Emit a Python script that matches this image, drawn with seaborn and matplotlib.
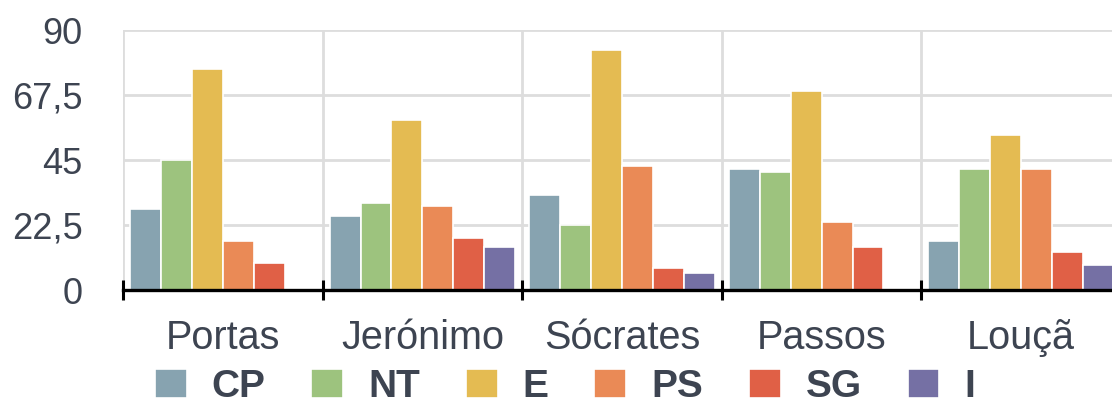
import numpy as np
import pandas as pd
import seaborn as sns
import matplotlib.pyplot as plt
from matplotlib.ticker import FuncFormatter

leaders = ["Portas", "Jerónimo", "Sócrates", "Passos", "Louçã"]
series = ["CP", "NT", "E", "PS", "SG", "I"]
cp = [28, 25.5, 33, 42, 17]
nt = [45, 30, 22.5, 41, 42]
e = [76.5, 59, 83, 69, 53.5]
ps = [17, 29, 43, 23.5, 42]
sg = [9.5, 18, 7.5, 15, 13]
ind = [0, 15, 6, 0, 8.5]
colors = ["#87A3B0", "#9DC37E", "#E4BB52", "#EA8A56", "#E06046", "#7570A4"]

rows = []
for name, vals in zip(series, [cp, nt, e, ps, sg, ind]):
    for leader, v in zip(leaders, vals):
        rows.append({"leader": leader, "series": name, "value": v})
df = pd.DataFrame(rows)

sns.set_style("white")
plt.rcParams["font.family"] = ["Liberation Sans", "DejaVu Sans"]
text_col = "#3D4451"

fig = plt.figure(figsize=(11.12, 4.03), dpi=100)
ax = fig.add_axes([123 / 1112, 113 / 403, 998 / 1112, 260 / 403])

sns.barplot(data=df, x="leader", y="value", hue="series", order=leaders,
            hue_order=series, palette=colors, width=0.93, edgecolor="white",
            linewidth=1.2, saturation=1, ax=ax, legend=True)

ax.set_ylim(0, 90)
ax.set_xlim(-0.5, len(leaders) - 0.5)
ax.set_yticks([0, 22.5, 45, 67.5, 90])
ax.yaxis.set_major_formatter(FuncFormatter(
    lambda v, p: (f"{v:g}").replace(".", ",")))
ax.set_xticks(range(len(leaders)))
ax.set_xticks(np.arange(-0.5, len(leaders)), minor=True)
ax.set_xticklabels(leaders)
ax.tick_params(axis="x", which="major", bottom=True, length=0, pad=21,
               labelsize=28.5, labelcolor=text_col)
ax.tick_params(axis="x", which="minor", bottom=True, direction="inout",
               length=14, width=2.2, color="black")
ax.tick_params(axis="y", length=0, pad=29, labelsize=26, labelcolor=text_col)

ax.set_axisbelow(True)
ax.grid(axis="y", color="#DDDDDD", linewidth=2)
ax.grid(axis="x", which="minor", color="#DDDDDD", linewidth=2)
ax.grid(axis="x", which="major", visible=False)
for s in ["top", "right", "left"]:
    ax.spines[s].set_visible(False)
ax.spines["bottom"].set_color("black")
ax.spines["bottom"].set_linewidth(2.4)
ax.set_xlabel("")
ax.set_ylabel("")

handles, labels = ax.get_legend_handles_labels()
ax.get_legend().remove()
leg = fig.legend(handles, labels, loc="center", bbox_to_anchor=(0.508, 0.04),
                 ncol=6, frameon=False, fontsize=28, handlelength=0.82,
                 handleheight=0.8, handletextpad=0.64, columnspacing=1.18,
                 borderpad=0, borderaxespad=0)
for t in leg.get_texts():
    t.set_fontweight("bold")
    t.set_color(text_col)

fig.savefig("out.png", dpi=100)
